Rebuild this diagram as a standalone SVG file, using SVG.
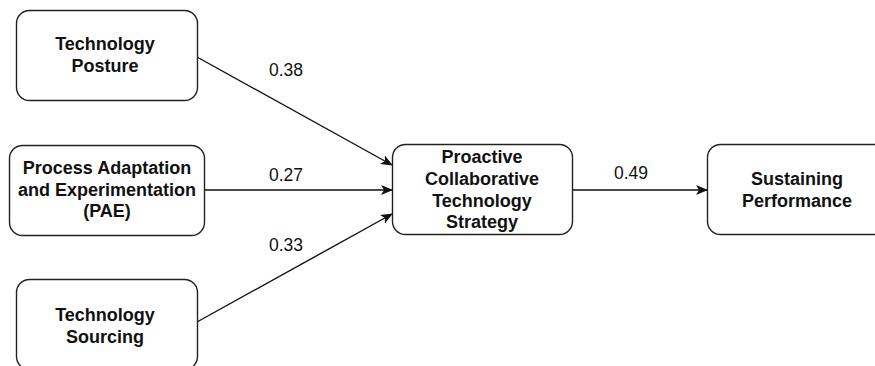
<svg xmlns="http://www.w3.org/2000/svg" width="875" height="366" viewBox="0 0 875 366">
<style>
.box{fill:#fff;stroke:#222;stroke-width:1.4}
.t{font-family:"Liberation Sans",Arial,sans-serif;font-weight:bold;font-size:18px;fill:#111;text-anchor:middle}
.n{font-family:"Liberation Sans",Arial,sans-serif;font-size:17.5px;fill:#111;text-anchor:middle}
.c{stroke:#111;stroke-width:1.4;fill:none;marker-end:url(#ah)}
</style>
<defs>
<marker id="ah" viewBox="0 0 12 10" refX="11" refY="5" markerWidth="12" markerHeight="10" markerUnits="userSpaceOnUse" orient="auto">
<path d="M0,0 L12,5 L0,10 L3,5 Z" fill="#111"/>
</marker>
</defs>
<rect width="875" height="366" fill="#fff"/>
<g id="connectors">
<line class="c" x1="197" y1="57" x2="392" y2="165"/>
<line class="c" x1="204" y1="190" x2="392" y2="190"/>
<line class="c" x1="197" y1="322" x2="392" y2="214"/>
<line class="c" x1="572" y1="190" x2="707" y2="190"/>
<text class="n" x="286" y="76">0.38</text>
<text class="n" x="286" y="181">0.27</text>
<text class="n" x="286" y="251">0.33</text>
<text class="n" x="631" y="179">0.49</text>
</g>
<g id="node-posture">
<rect class="box" x="16.5" y="10.5" width="181" height="90" rx="13"/>
<text class="t" x="105" y="50">Technology</text>
<text class="t" x="105" y="72">Posture</text>
</g>
<g id="node-pae">
<rect class="box" x="9.5" y="145.5" width="195" height="90" rx="13"/>
<text class="t" x="107" y="174">Process Adaptation</text>
<text class="t" x="107" y="195.5">and Experimentation</text>
<text class="t" x="107" y="217">(PAE)</text>
</g>
<g id="node-sourcing">
<rect class="box" x="16.5" y="279.5" width="181" height="90" rx="13"/>
<text class="t" x="105" y="320.5">Technology</text>
<text class="t" x="105" y="342.5">Sourcing</text>
</g>
<g id="node-pcts">
<rect class="box" x="392.5" y="144.5" width="180" height="90" rx="13"/>
<text class="t" x="482" y="163">Proactive</text>
<text class="t" x="482" y="185">Collaborative</text>
<text class="t" x="482" y="206.5">Technology</text>
<text class="t" x="482" y="228">Strategy</text>
</g>
<g id="node-sp">
<rect class="box" x="707.5" y="144.5" width="180" height="90" rx="13"/>
<text class="t" x="797" y="185">Sustaining</text>
<text class="t" x="797" y="207">Performance</text>
</g>
</svg>
